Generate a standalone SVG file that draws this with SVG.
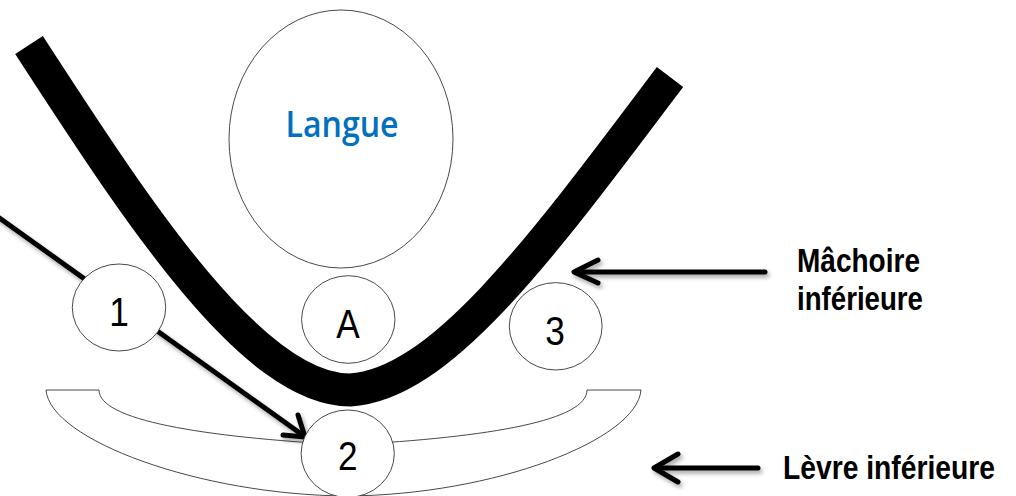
<svg xmlns="http://www.w3.org/2000/svg" width="1016" height="496" viewBox="0 0 1016 496">
  <defs>
    <style>
      .outline { fill: #ffffff; stroke: #333333; stroke-width: 0.9; }
      .num { font-family: "Liberation Sans", Arial, sans-serif; font-size: 40px; fill: #000000; text-anchor: middle; }
      .lbl { font-family: "Liberation Sans", Arial, sans-serif; font-size: 33px; font-weight: bold; fill: #000000; }
      .conn { fill: none; stroke: #000000; stroke-width: 5; stroke-linecap: round; stroke-linejoin: round; }
    </style>
    <filter id="shadow" x="-20%" y="-20%" width="140%" height="160%">
      <feDropShadow dx="2" dy="3" stdDeviation="2" flood-color="#000000" flood-opacity="0.35"/>
    </filter>
  </defs>
  <rect width="1016" height="496" fill="#ffffff"/>

  <g id="levre">
    <path class="outline" d="M46,390 L99,390 C99,420 200,437 347,445 C494,437 587,420 587,390 L641,390 C637,440 494,495 347,496 C200,495 50,440 46,390 Z"/>
  </g>

  <g id="langue">
    <ellipse class="outline" cx="341" cy="139" rx="112" ry="129"/>
    <text x="342" y="137" font-family="'Open Sans', 'Noto Sans', sans-serif" font-size="36" font-weight="600" fill="#0070C0" text-anchor="middle" textLength="113" lengthAdjust="spacingAndGlyphs">Langue</text>
  </g>

  <g id="machoire">
    <path d="M29,45 C130,200 250,390 350,390 C440,385 540,250 670,77" fill="none" stroke="#000000" stroke-width="33" stroke-linecap="butt"/>
  </g>

  <g id="connectors" filter="url(#shadow)">
    <path class="conn" d="M-2,217 L304,436"/>
    <path class="conn" d="M283,435 L305,437 L298,415"/>
    <path class="conn" d="M765,272 L575,272"/>
    <path class="conn" d="M598,260 L574,272 L598,283"/>
    <path class="conn" d="M758,468 L655,468"/>
    <path class="conn" d="M678,454 L654,468 L678,482"/>
  </g>

  <g id="node-1">
    <ellipse class="outline" cx="119" cy="307.5" rx="46.7" ry="43.5"/>
    <text class="num" transform="translate(119,326) scale(0.88,1)">1</text>
  </g>
  <g id="node-A">
    <ellipse class="outline" cx="348.3" cy="319.5" rx="46.7" ry="43.8"/>
    <text class="num" transform="translate(348,338) scale(0.88,1)">A</text>
  </g>
  <g id="node-3">
    <ellipse class="outline" cx="555.7" cy="326.3" rx="46.4" ry="43.7"/>
    <text class="num" transform="translate(555,345) scale(0.88,1)">3</text>
  </g>
  <g id="node-2">
    <ellipse class="outline" cx="347.7" cy="453.7" rx="46.6" ry="43.7"/>
    <text class="num" transform="translate(347.7,470) scale(0.88,1)">2</text>
  </g>

  <g id="labels">
    <text class="lbl" x="797" y="272" textLength="123" lengthAdjust="spacingAndGlyphs">Mâchoire</text>
    <text class="lbl" x="797" y="310" textLength="126" lengthAdjust="spacingAndGlyphs">inférieure</text>
    <text class="lbl" x="783" y="479" textLength="212" lengthAdjust="spacingAndGlyphs">Lèvre inférieure</text>
  </g>
</svg>
